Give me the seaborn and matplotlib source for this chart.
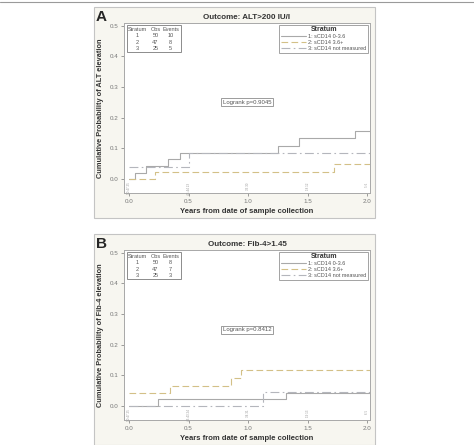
import numpy as np
import pandas as pd
import seaborn as sns
import matplotlib.pyplot as plt
from matplotlib.patches import Rectangle
from matplotlib.lines import Line2D

# cumulative incidence step curves
# panel A: ALT > 200 IU/l
a_s1_t = [0.0, 0.05, 0.14, 0.33, 0.43, 1.25, 1.425, 1.90, 2.03]
a_s1_p = [0.0, 0.020, 0.042, 0.064, 0.084, 0.108, 0.132, 0.155, 0.155]
a_s2_t = [0.0, 0.22, 1.72, 2.03]
a_s2_p = [0.0, 0.021, 0.049, 0.049]
a_s3_t = [0.0, 0.5, 2.03]
a_s3_p = [0.040, 0.084, 0.084]

# panel B: Fib-4 > 1.45
b_s1_t = [0.0, 0.245, 1.32, 2.03]
b_s1_p = [0.0, 0.021, 0.043, 0.043]
b_s2_t = [0.0, 0.346, 0.86, 0.94, 2.03]
b_s2_p = [0.041, 0.066, 0.092, 0.118, 0.118]
b_s3_t = [0.0, 1.128, 2.03]
b_s3_p = [0.0, 0.046, 0.046]

strata_labels = ["1: sCD14 0-3.6", "2: sCD14 3.6+", "3: sCD14 not measured"]
obs = [50, 47, 25]
events_a = [10, 8, 5]
events_b = [8, 7, 3]

# at-risk counts printed under the curves (barely legible, estimated)
risk_x = [0.0, 0.5, 1.0, 1.5, 2.0]
risk_a = ["50 47 25", "45 44 23", "33 30", "18 12", "5 6"]
risk_b = ["50 47 25", "46 43 24", "34 31", "19 13", "6 5"]

sns.set_style("white")
plt.rcParams['font.family'] = ['Liberation Sans', 'DejaVu Sans']

colors = ["#a9a9a9", "#d3c087", "#b4b6bc"]
styles = ["-", (0, (6, 3)), (0, (8, 3, 1.5, 3))]

fig = plt.figure(figsize=(4.74, 4.45), dpi=100)
W, H = 474, 445

# thin rule at the top of the page
fig.add_artist(Line2D([0, 1], [1 - 1.5 / H, 1 - 1.5 / H], color="#9a9a9a", lw=0.8))


def panel(top_px, letter, title, ylab, curves, events, pval, risk):
    # cream frame behind the panel
    fig.add_artist(Rectangle((94 / W, 1 - (top_px + 211) / H), 281 / W, 211 / H,
                             facecolor="#f7f6f0", edgecolor="#c4c4c4", lw=0.8,
                             zorder=-5))
    ax = fig.add_axes([124 / W, 1 - (top_px + 186) / H, 246 / W, 170 / H])
    ax.set_zorder(1)
    ax.set_facecolor("white")
    for i, (t, p) in enumerate(curves):
        d = pd.DataFrame({"time": t, "prob": p})
        sns.lineplot(data=d, x="time", y="prob", ax=ax, color=colors[i],
                     linestyle=styles[i], lw=0.8, drawstyle="steps-post",
                     estimator=None, legend=False)
    ax.set_xlim(-0.042, 2.025)
    ax.set_ylim(-0.046, 0.509)
    ax.set_xticks([0.0, 0.5, 1.0, 1.5, 2.0])
    ax.set_yticks([0.0, 0.1, 0.2, 0.3, 0.4, 0.5])
    ax.xaxis.set_major_formatter(plt.FormatStrFormatter("%.1f"))
    ax.yaxis.set_major_formatter(plt.FormatStrFormatter("%.1f"))
    ax.tick_params(labelsize=4.5, colors="#777777", length=2, width=0.5, pad=2,
                   bottom=True, left=True)
    for s in ax.spines.values():
        s.set_color("#a8a8a8")
        s.set_linewidth(0.7)
    ax.set_xlabel("Years from date of sample collection", fontsize=5.5,
                  fontweight="bold", color="#333333", labelpad=3)
    ax.set_ylabel(ylab, fontsize=5.3, fontweight="bold", color="#333333", labelpad=4)
    ax.set_title(title, fontsize=5.8, fontweight="bold", color="#333333", pad=3)
    fig.text(96 / W, 1 - (top_px + 10) / H, letter, fontsize=11, fontweight="bold",
             va="center", ha="left")

    # at-risk numbers
    for x, r in zip(risk_x, risk):
        ax.text(x, -0.012, r, fontsize=2.2, rotation=90, color="#999999",
                ha="center", va="top")

    # observation / event table
    ax.add_patch(Rectangle((0.012, 0.83), 0.22, 0.158, transform=ax.transAxes,
                           facecolor="white", edgecolor="#8c8c8c", lw=0.7))
    cols = [0.053, 0.128, 0.19]
    rows = [0.962, 0.924, 0.886, 0.848]
    kw = dict(transform=ax.transAxes, fontsize=4, color="#555555",
              ha="center", va="center")
    for c, h in zip(cols, ["Stratum", "Obs", "Events"]):
        ax.text(c, rows[0], h, **kw)
    for j in range(3):
        ax.text(cols[0], rows[j + 1], str(j + 1), **kw)
        ax.text(cols[1], rows[j + 1], str(obs[j]), **kw)
        ax.text(cols[2], rows[j + 1], str(events[j]), **kw)

    # legend
    handles = [Line2D([], [], color=colors[i], linestyle=styles[i], lw=0.8)
               for i in range(3)]
    leg = ax.legend(handles, strata_labels, title="Stratum", loc="upper right",
                    bbox_to_anchor=(0.993, 0.99), fontsize=4, title_fontsize=5,
                    frameon=True, fancybox=False, edgecolor="#8c8c8c",
                    handlelength=4.5, handletextpad=0.5, borderpad=0.3,
                    labelspacing=0.15, borderaxespad=0)
    leg.get_frame().set_linewidth(0.7)
    leg.get_title().set_fontweight("bold")
    leg.get_title().set_color("#333333")
    for t in leg.get_texts():
        t.set_color("#555555")

    ax.text(0.5, pval[1], pval[0], transform=ax.transAxes, fontsize=4.3,
            color="#555555", ha="center", va="center",
            bbox=dict(boxstyle="square,pad=0.25", fc="white", ec="#8c8c8c", lw=0.6))
    return ax


panel(7, "A", "Outcome: ALT>200 IU/l", "Cumulative Probability of ALT elevation",
      [(a_s1_t, a_s1_p), (a_s2_t, a_s2_p), (a_s3_t, a_s3_p)], events_a,
      ("Logrank p=0.9045", 0.535), risk_a)
panel(234, "B", "Outcome: Fib-4>1.45", "Cumulative Probability of Fib-4 elevation",
      [(b_s1_t, b_s1_p), (b_s2_t, b_s2_p), (b_s3_t, b_s3_p)], events_b,
      ("Logrank p=0.8412", 0.531), risk_b)

fig.savefig("out.png", dpi=100)
